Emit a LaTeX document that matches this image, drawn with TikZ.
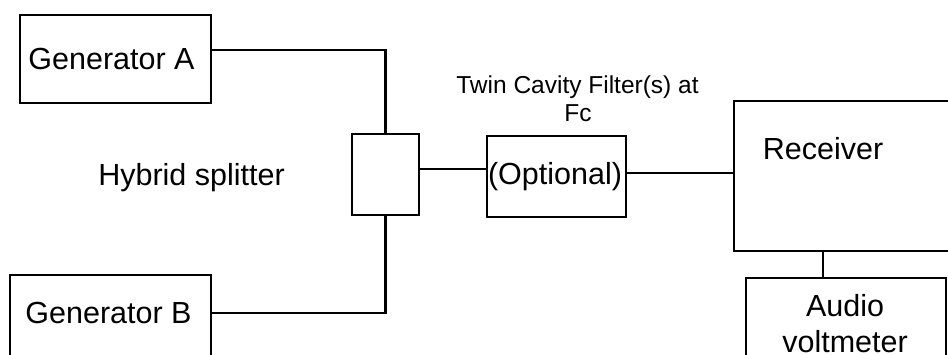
\documentclass[tikz,border=0pt]{standalone}
\usepackage{fontspec}
\setmainfont{Liberation Sans}
\begin{document}
\begin{tikzpicture}[x=1pt,y=-1pt,
  thickbox/.style={draw, line width=2.8pt, inner sep=0pt},
  thinbox/.style={draw, line width=1.8pt, inner sep=0pt},
  wire/.style={line width=2.8pt},
  thinwire/.style={line width=1.8pt},
  lbl/.style={anchor=base, inner sep=0pt, font=\fontsize{30.5}{36}\selectfont},
  smalllbl/.style={anchor=base, inner sep=0pt, font=\fontsize{24.5}{28}\selectfont}]
\useasboundingbox (0,0) rectangle (948,354);
\clip (0,0) rectangle (948,354);

% boxes
\node[thickbox, minimum width=191pt, minimum height=88pt] (ga) at (115.5,59) {};
\node[thickbox, minimum width=201pt, minimum height=95pt] (gb) at (110.5,322.5) {};
\node[thinbox, minimum width=67pt, minimum height=81pt] (sp) at (385.5,174.5) {};
\node[thinbox, minimum width=139pt, minimum height=81pt] (op) at (556.5,176.5) {};
\node[thickbox, minimum width=236pt, minimum height=150pt] (rx) at (852,176) {};
\node[thickbox, minimum width=200pt, minimum height=102pt] (au) at (846,329) {};

% labels
\node[lbl] (tga) at (111.5,69) {Generator A};
\node[lbl] (tgb) at (108.5,323) {Generator B};
\node[lbl] (thy) at (191.5,185) {Hybrid splitter};
\node[lbl] (top) at (555,184) {(Optional)};
\node[lbl] (trx) at (823,159) {Receiver};
\node[lbl] (tau1) at (845,316) {Audio};
\node[lbl] (tau2) at (845,352) {voltmeter};
\node[smalllbl] (ttw1) at (577.5,93) {Twin Cavity Filter(s) at};
\node[smalllbl] (ttw2) at (578,121) {Fc};

% helper coordinates
\coordinate (ya) at (0,50);
\coordinate (yb) at (0,313);
\coordinate (ys) at (0,169);
\coordinate (yo) at (0,173);
\coordinate (xr) at (823,0);

% connectors
\draw[wire] (ga.east |- ya) -| (sp.north);
\draw[wire] (gb.east |- yb) -| (sp.south);
\draw[wire] (sp.east |- ys) -- (op.west |- ys);
\draw[wire] (op.east |- yo) -- (rx.west |- yo);
\draw[thinwire] (rx.south -| xr) -- (au.north -| xr);
\end{tikzpicture}
\end{document}
